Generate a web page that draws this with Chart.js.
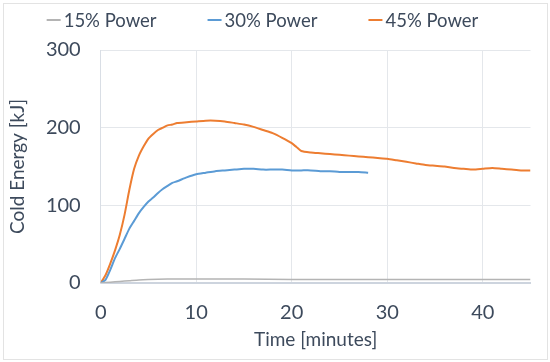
<!DOCTYPE html>
<html>
<head>
<meta charset="utf-8">
<script src="https://cdn.jsdelivr.net/npm/chart.js@4/dist/chart.umd.min.js"></script>
<style>
  html, body { margin: 0; padding: 0; background: #ffffff; }
  #wrap { position: relative; width: 550px; height: 362px; }
</style>
</head>
<body>
<div id="wrap"><canvas id="c" width="550" height="362"></canvas></div>
<script>
// ---- Data ----
const seriesLabels = ["15% Power", "30% Power", "45% Power"];

const time15 = [0, 1, 2, 3, 4, 5, 7, 10, 15, 20, 25, 30, 35, 40, 45];
const energy15 = [0, 1, 2, 3, 4, 4.5, 5, 5, 5, 4.5, 4.5, 4.5, 4.5, 4.5, 4.5];

const time30 = [0, 0.5, 1, 1.5, 2, 2.5, 3, 3.5, 4, 4.5, 5, 5.5, 6, 6.5, 7, 7.5, 8, 9, 10, 11, 12, 13, 14, 15, 16, 17, 18, 19, 20, 21, 22, 23, 24, 25, 26, 27, 28];
const energy30 = [0, 4, 17, 32, 44, 57, 70, 80, 90, 98, 105, 110, 116, 121, 125, 129, 131, 136, 140, 142, 144, 145, 146, 147, 147, 146, 146, 146, 145, 145, 145, 144, 144, 143, 143, 143, 142];

const time45 = [0, 0.5, 1, 1.5, 2, 2.5, 3, 3.5, 4, 4.5, 5, 5.5, 6, 6.5, 7, 7.5, 8, 9, 10, 11, 12, 13, 14, 15, 16, 17, 18, 19, 20, 20.5, 21, 22, 23, 24, 25, 26, 27, 28, 29, 30, 31, 32, 33, 34, 35, 36, 37, 38, 39, 40, 41, 42, 43, 44, 45];
const energy45 = [0, 10, 25, 42, 62, 88, 120, 147, 164, 176, 186, 192, 197, 200, 203, 204, 206, 207, 208, 209, 209, 208, 206, 204, 201, 197, 193, 187, 180, 175, 170, 168, 167, 166, 165, 164, 163, 162, 161, 160, 158, 156, 154, 152, 151, 150, 148, 147, 146, 147, 148, 147, 146, 145, 145];

const xTicks = [0, 10, 20, 30, 40];
const yTicks = [0, 100, 200, 300];

const colors = ["#B4B4B4", "#5B9BD5", "#ED7D31"];
const textColor = "#3D4A5C";
const FONT = "Lato";

function pts(xs, ys) { return xs.map((x, i) => ({ x: x, y: ys[i] })); }

const datasets = [
  { label: seriesLabels[0], data: pts(time15, energy15), borderColor: colors[0], borderWidth: 1.5 },
  { label: seriesLabels[1], data: pts(time30, energy30), borderColor: colors[1], borderWidth: 2 },
  { label: seriesLabels[2], data: pts(time45, energy45), borderColor: colors[2], borderWidth: 2 }
].map(d => Object.assign(d, { pointRadius: 0, fill: false, tension: 0.2, backgroundColor: d.borderColor }));

const frame = {
  id: "frame",
  beforeDraw(chart) {
    const ctx = chart.ctx;
    ctx.save();
    ctx.fillStyle = "#ffffff";
    ctx.fillRect(0, 0, chart.width, chart.height);
    ctx.strokeStyle = "#E3E3E3";
    ctx.lineWidth = 1;
    ctx.strokeRect(3.5, 3.5, chart.width - 6, chart.height - 6);
    ctx.restore();
  }
};

const customLegend = {
  id: "customLegend",
  afterDraw(chart) {
    const ctx = chart.ctx;
    ctx.save();
    ctx.font = "18.5px " + FONT;
    ctx.textBaseline = "middle";
    const lineLen = 14, gapLT = 3, itemGap = 51;
    const items = chart.data.datasets.map(d => ({ label: d.label, color: d.borderColor, w: lineLen + gapLT + ctx.measureText(d.label).width }));
    const total = items.reduce((s, it) => s + it.w, 0) + itemGap * (items.length - 1);
    let x = 262.5 - total / 2;
    const y = 20;
    items.forEach(it => {
      ctx.strokeStyle = it.color;
      ctx.lineWidth = 2;
      ctx.beginPath();
      ctx.moveTo(x, y);
      ctx.lineTo(x + lineLen, y);
      ctx.stroke();
      ctx.fillStyle = textColor;
      ctx.fillText(it.label, x + lineLen + gapLT, y + 1);
      x += it.w + itemGap;
    });
    ctx.restore();
  }
};

new Chart(document.getElementById("c"), {
  type: "line",
  data: { datasets: datasets },
  options: {
    responsive: false,
    animation: false,
    layout: { padding: { top: 50, right: 19.5, bottom: 0, left: 0 } },
    plugins: { legend: { display: false }, tooltip: { enabled: false } },
    scales: {
      x: {
        type: "linear",
        min: 0,
        max: 45,
        afterBuildTicks(scale) { scale.ticks = xTicks.map(v => ({ value: v })); },
        afterFit(scale) { scale.height = 79; },
        grid: { color: "#E4E7EB", lineWidth: 1, drawTicks: false },
        border: { color: "#CDD4DE", width: 2 },
        ticks: { color: textColor, font: { family: FONT, size: 20 }, padding: 18, maxRotation: 0 },
        title: { display: true, text: "Time [minutes]", color: textColor, font: { family: FONT, size: 19 }, padding: { top: 0, bottom: 11 } }
      },
      y: {
        min: 0,
        max: 300,
        afterBuildTicks(scale) { scale.ticks = yTicks.map(v => ({ value: v })); },
        afterFit(scale) { scale.width = 100.7; },
        grid: { color: "#E4E7EB", lineWidth: 1, drawTicks: false },
        border: { color: "#D9DEE5", width: 1 },
        ticks: { color: textColor, font: { family: FONT, size: 20 }, padding: 20 },
        title: { display: true, text: "Cold Energy [kJ]", color: textColor, font: { family: FONT, size: 19 }, padding: { top: 6, bottom: 0 } }
      }
    }
  },
  plugins: [frame, customLegend]
});
</script>
</body>
</html>
